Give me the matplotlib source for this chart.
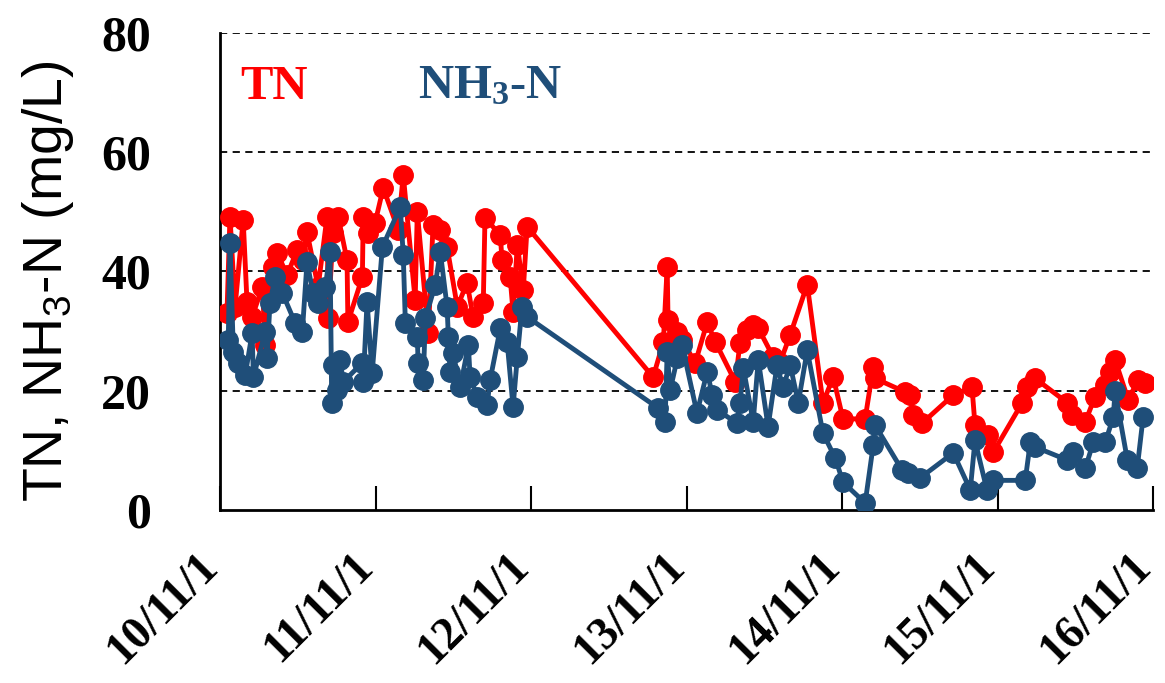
"""
TN and NH3-N concentration time series, Nov 2010 - Nov 2016
"""
import matplotlib
matplotlib.use("Agg")
import matplotlib.pyplot as plt
import matplotlib.transforms as mtransforms
import pandas as pd

START = pd.Timestamp("2010-11-01")

# sampling day (days after START) and concentration (mg/L)
tn_days = [16, 23, 35, 54, 63, 75, 99, 106, 124, 134, 157, 181, 195, 204, 230,
           251, 254, 265, 277, 298, 300, 334, 336, 348, 364, 383, 418, 430, 458,
           463, 489, 500, 517, 533, 557, 580, 594, 618, 622, 658, 662, 681, 688,
           698, 712, 721,
           1017, 1041, 1050, 1052, 1074, 1085, 1116, 1144, 1163, 1210, 1221, 1238,
           1252, 1264, 1299, 1315, 1339, 1379, 1416, 1440, 1463, 1515, 1534, 1538,
           1609, 1621, 1628, 1649, 1722, 1766, 1773, 1804, 1816, 1884, 1896, 1914,
           1990, 2001, 2032, 2055, 2079, 2091, 2102, 2133, 2156, 2173]
tn_vals = [33.1, 49.2, 34.1, 48.7, 34.9, 32.4, 37.4, 27.7, 40.8, 43.1, 39.4, 43.6,
           41.9, 46.6, 37.4, 49.2, 32.2, 46.5, 49.2, 41.9, 31.5, 39.1, 49.2, 46.5,
           48.2, 54.0, 47.0, 56.2, 35.2, 50.0, 29.7, 47.8, 47.0, 44.1, 34.1, 38.1,
           32.4, 34.7, 49.0, 46.1, 41.9, 39.1, 33.2, 44.5, 36.9, 47.5,
           22.3, 28.2, 40.8, 31.9, 29.9, 28.5, 24.7, 31.5, 28.2, 21.5, 28.0, 30.2,
           31.0, 30.5, 25.7, 24.7, 29.4, 37.8, 18.0, 22.3, 15.3, 15.3, 24.0, 22.1,
           19.8, 19.3, 15.9, 14.6, 19.3, 20.6, 14.3, 12.6, 9.7, 18.0, 20.6, 22.1,
           18.0, 15.9, 14.8, 19.0, 21.0, 23.2, 25.2, 18.5, 21.8, 21.3]

nh3_days = [19, 23, 31, 42, 59, 75, 78, 106, 110, 117, 129, 146, 176, 193, 204,
            218, 230, 247, 258, 262, 266, 275, 282, 289, 334, 336, 345, 357, 381,
            423, 430, 435, 463, 465, 477, 482, 505, 517, 533, 536, 540, 547, 564,
            583, 587, 604, 627, 634, 658, 674, 688, 698, 709, 721,
            1029, 1045, 1050, 1057, 1074, 1085, 1120, 1144, 1156, 1167, 1214, 1221,
            1229, 1252, 1264, 1287, 1308, 1322, 1339, 1358, 1379, 1416, 1445, 1463,
            1515, 1534, 1538, 1602, 1616, 1644, 1722, 1762, 1773, 1801, 1816, 1891,
            1903, 1914, 1990, 2004, 2032, 2051, 2079, 2098, 2102, 2131, 2154, 2168]
nh3_vals = [28.5, 44.8, 26.5, 24.7, 22.7, 29.7, 22.3, 29.9, 25.5, 34.7, 39.1, 36.4,
            31.4, 29.9, 41.6, 36.4, 34.7, 37.4, 43.3, 18.0, 24.3, 20.1, 25.2, 21.5,
            24.7, 21.5, 34.9, 23.0, 44.1, 50.8, 42.8, 31.4, 29.0, 24.7, 21.8, 32.2,
            37.7, 43.3, 34.1, 29.0, 23.2, 26.3, 20.6, 27.7, 22.3, 19.0, 17.6, 21.8,
            30.5, 28.2, 17.3, 25.7, 34.1, 32.4,
            17.1, 14.8, 26.5, 20.1, 25.5, 27.7, 16.3, 23.2, 19.3, 16.8, 14.6, 18.0,
            23.8, 14.8, 25.2, 14.0, 24.3, 20.6, 24.3, 18.0, 26.8, 12.9, 8.7, 4.7,
            1.2, 10.9, 14.3, 6.7, 6.2, 5.4, 9.6, 3.4, 11.7, 3.4, 5.0, 5.0,
            11.4, 10.6, 8.4, 9.7, 7.0, 11.4, 11.4, 15.6, 20.0, 8.4, 7.0, 15.6]

tick_years = [2010, 2011, 2012, 2013, 2014, 2015, 2016]
y_ticks = [0, 20, 40, 60, 80]

RED = "#FF0000"
BLUE = "#1F4E79"
SERIF = "Liberation Serif"

plt.rcParams["mathtext.fontset"] = "custom"
plt.rcParams["mathtext.rm"] = "Liberation Sans"
plt.rcParams["mathtext.bf"] = "Liberation Serif:bold"

tn_dates = START + pd.to_timedelta(tn_days, unit="D")
nh3_dates = START + pd.to_timedelta(nh3_days, unit="D")

fig = plt.figure(figsize=(11.65, 6.83), dpi=100)
ax = fig.add_axes([0.189, 0.253, 0.801, 0.699])

ax.plot(tn_dates, tn_vals, "-o", color=RED, lw=3.5, ms=14, zorder=3)
ax.plot(nh3_dates, nh3_vals, "-o", color=BLUE, lw=3.5, ms=14, zorder=4)

ticks = [pd.Timestamp(f"{y}-11-01") for y in tick_years]
ax.set_xlim(ticks[0], ticks[-1])
ax.set_xticks(ticks)
ax.set_xticklabels([f"{y % 100}/11/1" for y in tick_years],
                   rotation=45, ha="right", va="center", rotation_mode="anchor",
                   fontsize=33, fontweight="bold", family=SERIF)
ax.tick_params(axis="x", direction="in", length=17, width=1.5, pad=36)
shift = mtransforms.ScaledTranslation(-6 / 72, 0, fig.dpi_scale_trans)
for lbl in ax.get_xticklabels():
    lbl.set_transform(lbl.get_transform() + shift)

ax.set_ylim(0, 80)
ax.set_yticks(y_ticks)
ax.set_yticklabels([str(v) for v in y_ticks], fontsize=36,
                   fontweight="bold", family=SERIF)
ax.tick_params(axis="y", length=0, pad=50)

for v in y_ticks[1:]:
    ax.axhline(v, color="black", lw=1.3, ls=(0, (4, 3)), zorder=1)

for side in ("top", "right"):
    ax.spines[side].set_visible(False)
for side in ("left", "bottom"):
    ax.spines[side].set_linewidth(2)

ax.set_ylabel("TN, NH$_3$-N (mg/L)", fontsize=40, family="Liberation Sans")
ax.yaxis.set_label_coords(-0.155, 0.48)

ax.text(0.021, 0.887, "TN", transform=ax.transAxes, color=RED, fontsize=35,
        fontweight="bold", family=SERIF, va="center")
ax.text(0.212, 0.887, r"$\mathbf{NH_3}$-N", transform=ax.transAxes, color=BLUE,
        fontsize=35, fontweight="bold", family=SERIF, va="center")

fig.savefig("out.png", dpi=100)
